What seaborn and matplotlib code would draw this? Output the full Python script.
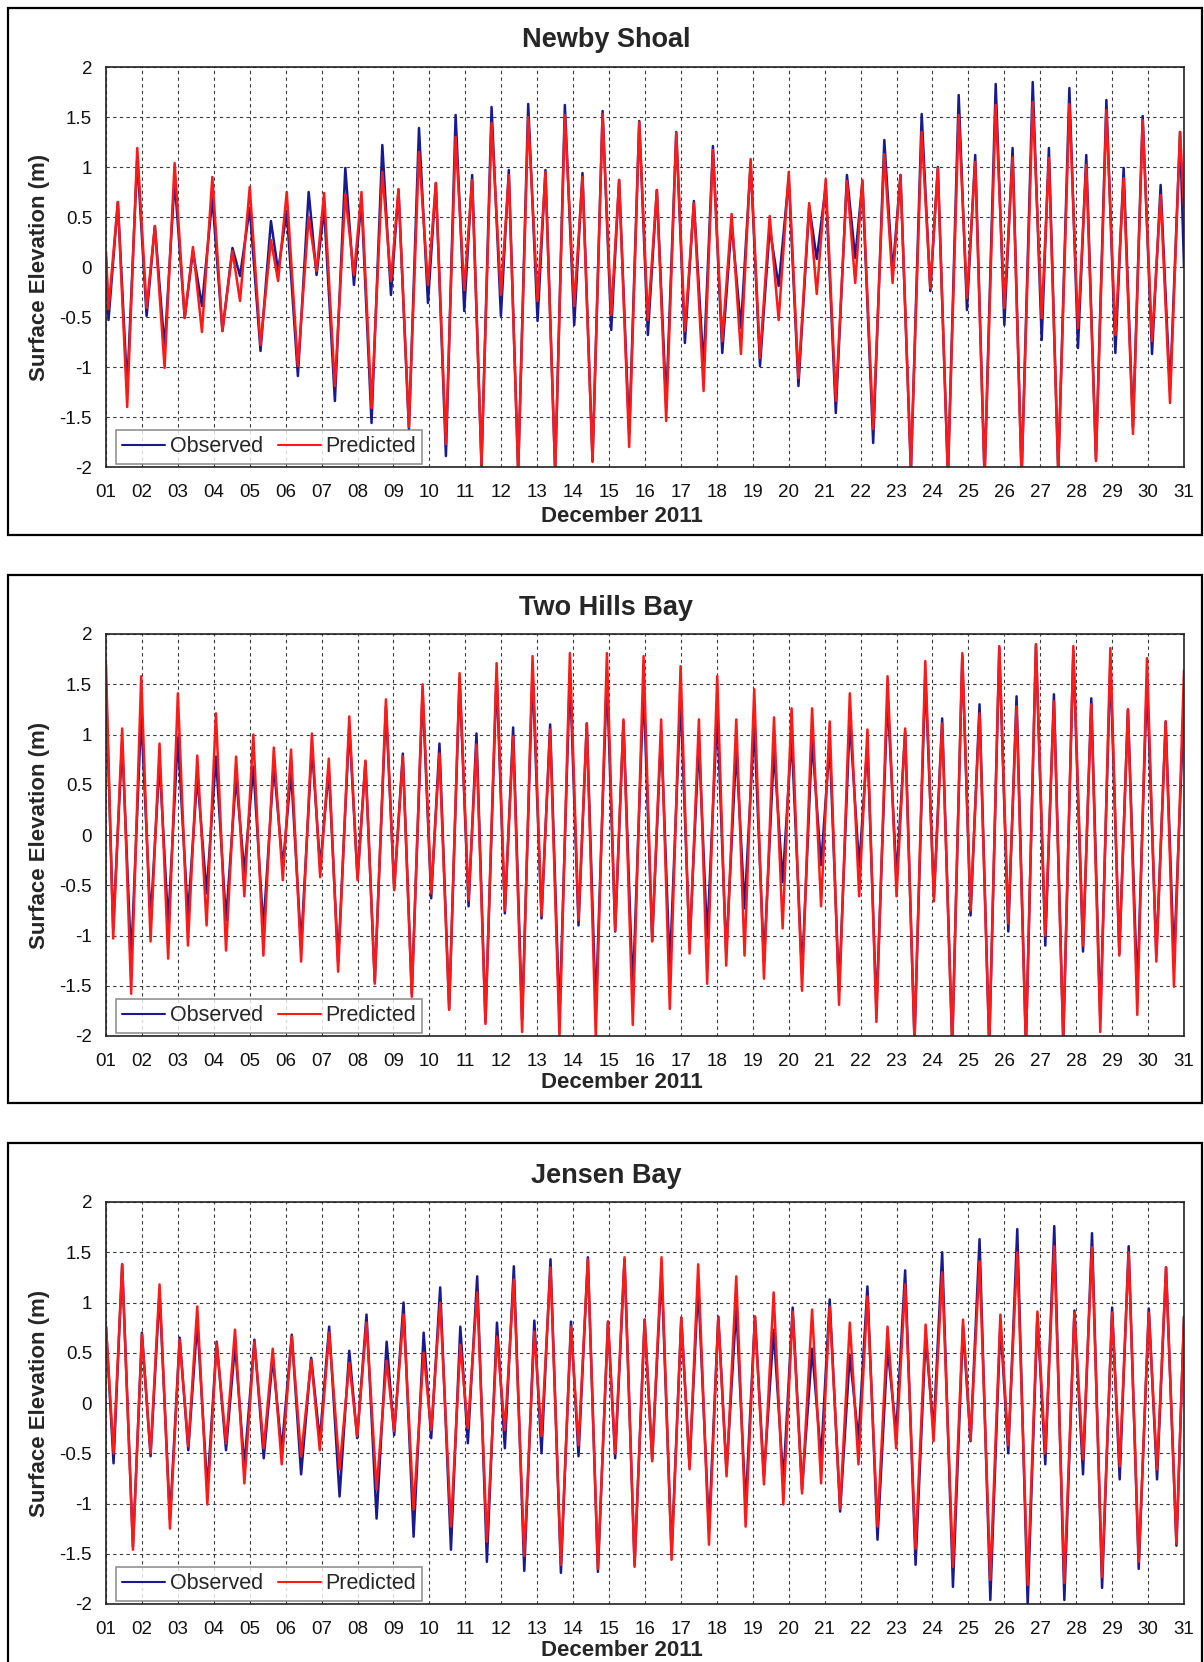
import numpy as np
import pandas as pd
import matplotlib
matplotlib.use("Agg")
import matplotlib.pyplot as plt
from matplotlib.patches import Rectangle
import seaborn as sns

# ---- Tide records, December 2011 (turning points: day of month, metres) ----
newby_days = [1.00, 1.07, 1.33, 1.59, 1.87, 2.13, 2.36, 2.63, 2.91, 3.19, 3.42, 3.67, 3.96, 4.24, 4.52, 4.73,
              5.00, 5.30, 5.59, 5.79, 6.03, 6.34, 6.64, 6.86, 7.07, 7.37, 7.66, 7.90, 8.11, 8.39, 8.69, 8.93,
              9.14, 9.43, 9.71, 9.96, 10.18, 10.46, 10.73, 10.97, 11.19, 11.45, 11.73, 11.99, 12.21, 12.47,
              12.75, 13.01, 13.23, 13.50, 13.77, 14.03, 14.26, 14.54, 14.82, 15.06, 15.28, 15.56, 15.84,
              16.08, 16.33, 16.59, 16.87, 17.11, 17.36, 17.63, 17.89, 18.15, 18.41, 18.67, 18.94, 19.20,
              19.47, 19.72, 20.00, 20.27, 20.57, 20.78, 21.03, 21.31, 21.62, 21.85, 22.05, 22.35, 22.66,
              22.89, 23.11, 23.40, 23.70, 23.94, 24.15, 24.43, 24.73, 24.96, 25.19, 25.45, 25.76, 26.00,
              26.23, 26.48, 26.79, 27.04, 27.24, 27.50, 27.81, 28.05, 28.28, 28.55, 28.84, 29.09, 29.32,
              29.58, 29.85, 30.11, 30.35, 30.61, 30.89, 31.00]
newby_obs = [0.10, -0.53, 0.65, -1.21, 1.09, -0.49, 0.41, -0.81, 0.87, -0.51, 0.16, -0.39, 0.69, -0.64, 0.19, -0.09,
             0.59, -0.84, 0.46, -0.04, 0.56, -1.09, 0.75, -0.08, 0.59, -1.34, 0.99, -0.18, 0.67, -1.56, 1.22, -0.28,
             0.77, -1.62, 1.39, -0.36, 0.84, -1.89, 1.52, -0.44, 0.92, -1.99, 1.60, -0.49, 0.97, -2.05,
             1.63, -0.54, 0.97, -2.05, 1.62, -0.58, 0.94, -1.94, 1.56, -0.63, 0.87, -1.67, 1.46,
             -0.68, 0.77, -1.37, 1.35, -0.76, 0.66, -1.01, 1.21, -0.86, 0.44, -0.61, 1.04, -0.99,
             0.39, -0.19, 0.89, -1.19, 0.61, 0.08, 0.81, -1.46, 0.92, 0.09, 0.85, -1.76, 1.27,
             -0.06, 0.92, -2.05, 1.53, -0.24, 1.00, -2.10, 1.72, -0.43, 1.12, -2.10, 1.83, -0.58,
             1.19, -2.10, 1.85, -0.73, 1.19, -2.05, 1.79, -0.81, 1.12, -1.92, 1.67, -0.86, 0.99,
             -1.61, 1.51, -0.87, 0.82, -1.24, 1.35, 0.00]
newby_pred = [0.15, -0.42, 0.65, -1.40, 1.19, -0.41, 0.41, -1.01, 1.04, -0.51, 0.20, -0.65, 0.90, -0.64, 0.16, -0.34,
              0.80, -0.78, 0.27, -0.14, 0.75, -0.99, 0.50, -0.04, 0.74, -1.19, 0.73, -0.08, 0.75, -1.41, 0.95, -0.14,
              0.78, -1.60, 1.15, -0.18, 0.84, -1.77, 1.30, -0.23, 0.87, -1.97, 1.44, -0.28, 0.92, -2.05,
              1.50, -0.34, 0.95, -2.05, 1.52, -0.39, 0.90, -1.95, 1.53, -0.48, 0.87, -1.80, 1.45,
              -0.53, 0.77, -1.54, 1.34, -0.64, 0.64, -1.24, 1.17, -0.74, 0.53, -0.87, 1.08, -0.91,
              0.51, -0.53, 0.95, -1.11, 0.64, -0.27, 0.88, -1.34, 0.86, -0.16, 0.87, -1.62, 1.13,
              -0.16, 0.92, -2.02, 1.35, -0.21, 0.99, -2.10, 1.52, -0.31, 1.05, -2.10, 1.62, -0.41,
              1.10, -2.10, 1.65, -0.51, 1.09, -2.05, 1.63, -0.61, 1.02, -1.94, 1.57, -0.68, 0.89,
              -1.67, 1.47, -0.74, 0.72, -1.36, 1.35, 0.60]

twohills_days = [1.00, 1.20, 1.45, 1.70, 1.98, 2.24, 2.49, 2.73, 3.00, 3.28, 3.54, 3.80, 4.06, 4.34, 4.62, 4.85,
                 5.10, 5.38, 5.67, 5.92, 6.15, 6.43, 6.73, 6.96, 7.20, 7.46, 7.77, 8.00, 8.22, 8.48, 8.79, 9.02,
                 9.26, 9.51, 9.81, 10.05, 10.28, 10.55, 10.84, 11.09, 11.31, 11.56, 11.87, 12.10, 12.33, 12.58,
                 12.87, 13.12, 13.36, 13.62, 13.91, 14.15, 14.38, 14.63, 14.94, 15.17, 15.40, 15.66, 15.96,
                 16.20, 16.45, 16.69, 16.99, 17.24, 17.50, 17.73, 18.01, 18.26, 18.54, 18.77, 19.04, 19.31,
                 19.59, 19.83, 20.08, 20.37, 20.65, 20.90, 21.14, 21.40, 21.70, 21.96, 22.19, 22.44, 22.75,
                 23.00, 23.24, 23.50, 23.80, 24.04, 24.27, 24.55, 24.83, 25.06, 25.31, 25.58, 25.86, 26.11,
                 26.34, 26.60, 26.88, 27.14, 27.38, 27.64, 27.92, 28.19, 28.42, 28.67, 28.95, 29.20, 29.44,
                 29.70, 29.97, 30.23, 30.49, 30.72, 31.00]
twohills_obs = [1.50, -0.93, 0.93, -1.25, 1.20, -0.85, 0.73, -0.88, 0.97, -0.81, 0.59, -0.58, 0.78, -0.85, 0.58, -0.37,
                0.68, -0.93, 0.70, -0.32, 0.63, -1.10, 0.88, -0.32, 0.65, -1.26, 1.08, -0.43, 0.73, -1.46, 1.28, -0.53,
                0.81, -1.58, 1.43, -0.63, 0.91, -1.73, 1.56, -0.71, 1.01, -1.86, 1.60, -0.78, 1.07, -1.84,
                1.63, -0.83, 1.10, -1.83, 1.61, -0.90, 1.11, -1.74, 1.58, -0.96, 1.13, -1.56, 1.48,
                -1.05, 1.03, -1.33, 1.38, -1.10, 0.93, -1.03, 1.23, -1.18, 0.86, -0.73, 1.10, -1.26,
                0.85, -0.47, 0.98, -1.38, 0.95, -0.30, 0.91, -1.55, 1.15, -0.32, 0.91, -1.74, 1.38,
                -0.43, 1.03, -2.05, 1.60, -0.61, 1.16, -2.10, 1.78, -0.80, 1.30, -2.10, 1.86, -0.96,
                1.38, -2.10, 1.89, -1.10, 1.40, -2.05, 1.83, -1.16, 1.36, -1.83, 1.71, -1.18, 1.25,
                -1.56, 1.55, -1.20, 1.13, -1.26, 1.33]
twohills_pred = [1.70, -1.03, 1.06, -1.58, 1.58, -1.06, 0.91, -1.23, 1.41, -1.10, 0.79, -0.90, 1.21, -1.15, 0.78, -0.61,
                 1.00, -1.20, 0.87, -0.45, 0.85, -1.26, 1.01, -0.42, 0.76, -1.36, 1.18, -0.45, 0.74, -1.48, 1.35, -0.55,
                 0.78, -1.61, 1.50, -0.58, 0.81, -1.74, 1.61, -0.65, 0.90, -1.88, 1.71, -0.75, 0.98, -1.96,
                 1.78, -0.80, 1.05, -2.01, 1.81, -0.85, 1.11, -2.01, 1.81, -0.95, 1.15, -1.89, 1.78,
                 -1.06, 1.15, -1.73, 1.68, -1.18, 1.15, -1.48, 1.58, -1.30, 1.15, -1.20, 1.45, -1.43,
                 1.17, -0.93, 1.26, -1.55, 1.26, -0.71, 1.13, -1.69, 1.41, -0.61, 1.05, -1.86, 1.58,
                 -0.61, 1.06, -2.05, 1.73, -0.66, 1.11, -2.10, 1.81, -0.75, 1.21, -2.10, 1.88, -0.88,
                 1.28, -2.10, 1.90, -1.00, 1.33, -2.05, 1.88, -1.10, 1.30, -1.96, 1.86, -1.20, 1.25,
                 -1.79, 1.76, -1.26, 1.13, -1.51, 1.64]

jensen_days = [1.00, 1.21, 1.45, 1.75, 2.00, 2.24, 2.49, 2.78, 3.05, 3.29, 3.54, 3.82, 4.08, 4.34, 4.59, 4.85,
               5.13, 5.39, 5.64, 5.89, 6.17, 6.43, 6.71, 6.95, 7.21, 7.50, 7.77, 7.99, 8.25, 8.53, 8.81, 9.02,
               9.28, 9.56, 9.84, 10.05, 10.30, 10.60, 10.86, 11.07, 11.33, 11.60, 11.88, 12.10, 12.35, 12.64,
               12.92, 13.12, 13.37, 13.66, 13.94, 14.15, 14.41, 14.69, 14.97, 15.17, 15.43, 15.71, 15.99,
               16.20, 16.46, 16.74, 17.01, 17.24, 17.48, 17.78, 18.04, 18.27, 18.54, 18.80, 19.06, 19.31,
               19.58, 19.85, 20.11, 20.37, 20.65, 20.90, 21.14, 21.43, 21.70, 21.94, 22.19, 22.47, 22.75,
               22.99, 23.24, 23.53, 23.81, 24.03, 24.27, 24.57, 24.85, 25.06, 25.31, 25.61, 25.89, 26.11,
               26.36, 26.65, 26.92, 27.14, 27.39, 27.67, 27.95, 28.19, 28.44, 28.72, 29.00, 29.21, 29.46,
               29.74, 30.02, 30.25, 30.50, 30.79, 31.00]
jensen_obs = [0.76, -0.60, 1.38, -1.43, 0.70, -0.53, 1.10, -1.16, 0.65, -0.47, 0.81, -0.86, 0.61, -0.47, 0.58, -0.63,
              0.63, -0.55, 0.45, -0.47, 0.68, -0.71, 0.45, -0.37, 0.76, -0.93, 0.52, -0.35, 0.88, -1.15, 0.61, -0.32,
              1.00, -1.33, 0.70, -0.35, 1.15, -1.46, 0.76, -0.40, 1.26, -1.58, 0.80, -0.45, 1.36, -1.67,
              0.82, -0.50, 1.43, -1.69, 0.81, -0.53, 1.45, -1.68, 0.81, -0.55, 1.43, -1.61, 0.83,
              -0.56, 1.33, -1.51, 0.85, -0.63, 1.18, -1.26, 0.86, -0.68, 0.96, -1.03, 0.86, -0.73,
              0.73, -0.78, 0.95, -0.86, 0.54, -0.55, 1.03, -1.08, 0.48, -0.37, 1.16, -1.36, 0.55,
              -0.30, 1.32, -1.61, 0.66, -0.28, 1.50, -1.83, 0.76, -0.38, 1.63, -1.96, 0.80, -0.50,
              1.73, -2.01, 0.88, -0.61, 1.76, -1.96, 0.92, -0.71, 1.69, -1.84, 0.95, -0.76, 1.56,
              -1.65, 0.94, -0.76, 1.35, -1.42, 0.86]
jensen_pred = [0.76, -0.50, 1.38, -1.46, 0.68, -0.50, 1.18, -1.25, 0.63, -0.43, 0.96, -1.01, 0.60, -0.40, 0.73, -0.80,
               0.61, -0.45, 0.54, -0.61, 0.66, -0.53, 0.43, -0.47, 0.70, -0.66, 0.40, -0.33, 0.80, -0.86, 0.42, -0.28,
               0.88, -1.06, 0.50, -0.27, 1.00, -1.23, 0.58, -0.25, 1.10, -1.38, 0.66, -0.27, 1.23, -1.52,
               0.71, -0.33, 1.35, -1.61, 0.76, -0.42, 1.43, -1.65, 0.81, -0.50, 1.45, -1.63, 0.83,
               -0.58, 1.45, -1.56, 0.85, -0.66, 1.38, -1.41, 0.85, -0.73, 1.26, -1.23, 0.86, -0.81,
               1.10, -1.01, 0.91, -0.90, 0.93, -0.80, 0.96, -1.05, 0.80, -0.61, 1.06, -1.23, 0.76,
               -0.45, 1.18, -1.45, 0.78, -0.38, 1.30, -1.63, 0.83, -0.37, 1.41, -1.76, 0.88, -0.42,
               1.50, -1.81, 0.91, -0.50, 1.56, -1.79, 0.90, -0.56, 1.55, -1.73, 0.90, -0.63, 1.50,
               -1.58, 0.90, -0.66, 1.35, -1.40, 0.86]

stations = ["Newby Shoal", "Two Hills Bay", "Jensen Bay"]
station_days = [newby_days, twohills_days, jensen_days]
station_obs = [newby_obs, twohills_obs, jensen_obs]
station_pred = [newby_pred, twohills_pred, jensen_pred]

day_ticks = list(range(1, 32))
day_labels = [f"{d:02d}" for d in day_ticks]
level_ticks = [-2, -1.5, -1, -0.5, 0, 0.5, 1, 1.5, 2]
level_labels = ["-2", "-1.5", "-1", "-0.5", "0", "0.5", "1", "1.5", "2"]
series_names = ["Observed", "Predicted"]
series_colors = {"Observed": "#1a1a90", "Predicted": "#ff1a1a"}

# ---- style ----
sns.set_style("white")
plt.rcParams["font.family"] = ["Liberation Sans", "DejaVu Sans"]
plt.rcParams["axes.unicode_minus"] = False

W, H = 1204, 1662
fig = plt.figure(figsize=(W / 100, H / 100), dpi=100)

# panel geometry in pixels: (axes top, axes bottom, frame top, frame bottom, title y, xlabel y)
ax_left, ax_right = 106, 1184
panels_px = [
    (67, 467, 8, 535, 40, 516),
    (634, 1036, 575, 1103, 608, 1083),
    (1202, 1604, 1143, 1700, 1176, 1650),
]

for i, name in enumerate(stations):
    top, bot, ftop, fbot, ty, xly = panels_px[i]
    ax = fig.add_axes([ax_left / W, 1 - bot / H, (ax_right - ax_left) / W, (bot - top) / H])

    df = pd.DataFrame({
        "day": list(station_days[i]) * 2,
        "level": list(station_obs[i]) + list(station_pred[i]),
        "series": ["Observed"] * len(station_days[i]) + ["Predicted"] * len(station_days[i]),
    })
    sns.lineplot(data=df, x="day", y="level", hue="series", hue_order=series_names,
                 palette=series_colors, estimator=None, sort=False, linewidth=1.8,
                 ax=ax)
    for ln in ax.get_lines():
        ln.set_solid_joinstyle("round")

    ax.set_xlim(1, 31)
    ax.set_ylim(-2, 2)
    ax.set_xticks(day_ticks, labels=day_labels)
    ax.set_yticks(level_ticks, labels=level_labels)
    ax.grid(True, color="#3a3a3a", linestyle=(0, (3, 3)), linewidth=0.8)
    ax.set_axisbelow(True)
    for sp in ax.spines.values():
        sp.set_color("#222222")
        sp.set_linewidth(1.2)
    ax.tick_params(axis="both", direction="out", length=5, width=1, color="#222222",
                   labelsize=13.5, labelcolor="#111111")
    ax.tick_params(axis="x", pad=7)
    ax.tick_params(axis="y", pad=5)
    ax.set_xlabel("")
    ax.set_ylabel("")

    leg = ax.legend(loc="lower left", bbox_to_anchor=(0.009, 0.008), borderaxespad=0,
                    ncol=2, fontsize=15.5, frameon=True, fancybox=False,
                    handlelength=2.0, handletextpad=0.2, columnspacing=0.7,
                    borderpad=0.3, title=None)
    leg.get_frame().set_edgecolor("#777777")
    leg.get_frame().set_linewidth(1.2)
    for h in leg.get_lines():
        h.set_linewidth(1.5)

    fig.text(606 / W, 1 - ty / H, name, ha="center", va="center",
             fontsize=19.5, fontweight="bold")
    fig.text(622 / W, 1 - xly / H, "December 2011", ha="center", va="center",
             fontsize=16, fontweight="bold")
    fig.text(40 / W, 1 - (top + bot) / 2 / H, "Surface Elevation (m)", rotation=90,
             ha="center", va="center", fontsize=16, fontweight="bold")

    fig.patches.append(Rectangle((8 / W, 1 - fbot / H), (1202 - 8) / W, (fbot - ftop) / H,
                                 transform=fig.transFigure, fill=False,
                                 edgecolor="black", linewidth=1.6, zorder=0))

fig.savefig("out.png", dpi=100, facecolor="white")
